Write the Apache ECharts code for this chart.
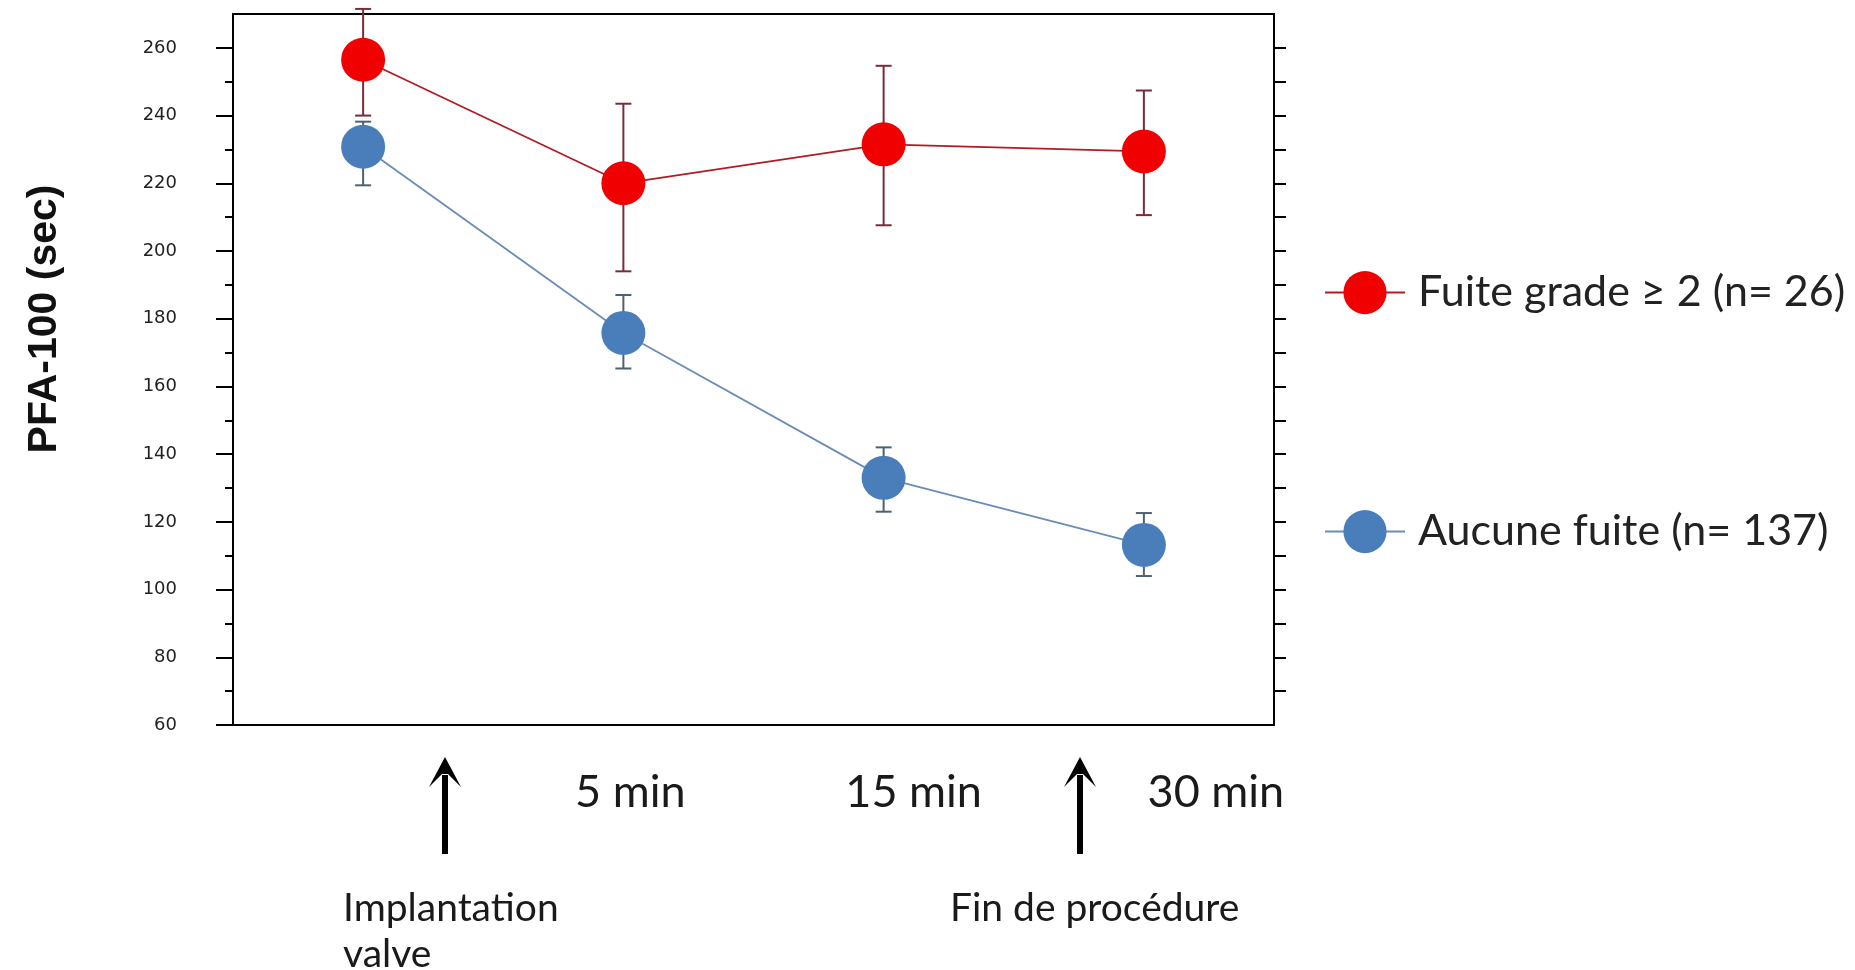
<!DOCTYPE html>
<html>
<head>
<meta charset="utf-8">
<script src="https://cdn.jsdelivr.net/npm/echarts@6/dist/echarts.min.js"></script>
<style>
html,body{margin:0;padding:0;background:#fff;}
#chart{width:1855px;height:970px;}
</style>
</head>
<body>
<div id="chart"></div>
<script>
// ---- data ----
const categories = ['', '5 min', '15 min', '30 min'];
const leakName = 'Fuite grade \u2265 2 (n= 26)';
const leakMean = [256.5, 220, 231.5, 229.4];
const leakUpper = [271.5, 243.5, 254.7, 247.4];
const leakLower = [240, 194, 207.6, 210.6];
const noLeakName = 'Aucune fuite (n= 137)';
const noLeakMean = [230.8, 175.8, 133, 113.2];
const noLeakUpper = [238.2, 187, 142, 122.6];
const noLeakLower = [219.4, 165.3, 123, 104];
const majorTicks = [60, 80, 100, 120, 140, 160, 180, 200, 220, 240, 260];
const minorTicks = [70, 90, 110, 130, 150, 170, 190, 210, 230, 250];
const rightTicks = [70, 80, 90, 100, 110, 120, 130, 140, 150, 160, 170, 180, 190, 200, 210, 220, 230, 240, 250, 260];
const yTitle = 'PFA-100 (sec)';
const note1 = 'Implantation\nvalve';
const note2 = 'Fin de proc\u00e9dure';

// ---- styles (not data) ----
const labelShift = [0, 14, 60, 144];
const RED = '#f00000', RED_LINE = '#b01c24', RED_ERR = '#7a2b38';
const BLUE = '#4a7ebb', BLUE_LINE = '#6a8db6', BLUE_ERR = '#50606e';

const chart = echarts.init(document.getElementById('chart'), null, {renderer: 'canvas'});

function errData(lo, hi) { return categories.map((c, i) => [i, lo[i], hi[i]]); }
function errRender(color) {
  return function (params, api) {
    const x = api.value(0);
    const lo = api.coord([x, api.value(1)]);
    const hi = api.coord([x, api.value(2)]);
    const w = 8;
    const st = {stroke: color, lineWidth: 2};
    return {type: 'group', children: [
      {type: 'line', shape: {x1: lo[0], y1: lo[1], x2: hi[0], y2: hi[1]}, style: st},
      {type: 'line', shape: {x1: lo[0] - w, y1: lo[1], x2: lo[0] + w, y2: lo[1]}, style: st},
      {type: 'line', shape: {x1: hi[0] - w, y1: hi[1], x2: hi[0] + w, y2: hi[1]}, style: st}
    ]};
  };
}

const axisFont = {fontFamily: 'Lato', fontSize: 45, color: '#1a1a1a'};

function arrow(cx, top, bottom) {
  return {type: 'group', children: [
    {type: 'rect', shape: {x: cx - 3, y: top + 18, width: 6, height: bottom - top - 18}, style: {fill: '#000'}},
    {type: 'polygon', shape: {points: [[cx, top], [cx - 16, top + 30], [cx - 3, top + 17], [cx + 3, top + 17], [cx + 16, top + 30]]}, style: {fill: '#000'}}
  ]};
}

const legendText = {fontFamily: 'Lato', fontSize: 43, color: '#222', padding: [0, 0, 0, 8]};

const option = {
  backgroundColor: '#fff',
  animation: false,
  grid: {left: 233, right: 581, top: 14, bottom: 245, containLabel: false},
  legend: [
    {data: [leakName], left: 1319, top: 266, orient: 'vertical', itemWidth: 80, itemHeight: 54,
     textStyle: legendText, selectedMode: false},
    {data: [noLeakName], left: 1319, top: 505, orient: 'vertical', itemWidth: 80, itemHeight: 54,
     textStyle: legendText, selectedMode: false}
  ],
  xAxis: [
    {type: 'category', position: 'bottom',
     data: categories.map((c, i) => ({value: c, textStyle: {padding: [0, 0, 0, labelShift[i]]}})),
     boundaryGap: true,
     axisLine: {lineStyle: {color: '#000', width: 2}},
     axisTick: {alignWithLabel: true, length: 6, lineStyle: {color: '#000', width: 2}},
     axisLabel: Object.assign({margin: 45, interval: 0}, axisFont)},
    {type: 'category', position: 'top', data: categories, boundaryGap: true,
     axisLine: {lineStyle: {color: '#000', width: 2}},
     axisTick: {alignWithLabel: true, length: 8, lineStyle: {color: '#000', width: 2}},
     axisLabel: {show: false}}
  ],
  yAxis: [
    {type: 'value', position: 'left', min: 60, max: 270, interval: 10,
     axisLine: {show: true, lineStyle: {color: '#000', width: 2}},
     axisTick: {show: true, length: 17, customValues: majorTicks, lineStyle: {color: '#000', width: 2}},
     axisLabel: {customValues: majorTicks, margin: 56, fontFamily: 'DejaVu Sans', fontSize: 18, color: '#222', padding: [0, 0, 6, 0]},
     splitLine: {show: false}},
    {type: 'value', position: 'right', min: 60, max: 270, interval: 10,
     axisLine: {show: true, lineStyle: {color: '#000', width: 2}},
     axisTick: {show: true, length: 12, customValues: rightTicks, lineStyle: {color: '#000', width: 2}},
     axisLabel: {show: false}, splitLine: {show: false}},
    {type: 'value', position: 'left', offset: 0, min: 60, max: 270, interval: 10,
     axisLine: {show: false},
     axisTick: {show: true, length: 8, customValues: minorTicks, lineStyle: {color: '#000', width: 2}},
     axisLabel: {show: false}, splitLine: {show: false}}
  ],
  series: [
    {type: 'custom', name: 'errLeak', renderItem: errRender(RED_ERR), data: errData(leakLower, leakUpper), z: 1, silent: true, clip: false},
    {type: 'custom', name: 'errNoLeak', renderItem: errRender(BLUE_ERR), data: errData(noLeakLower, noLeakUpper), z: 1, silent: true, clip: false},
    {type: 'line', name: leakName, data: leakMean, z: 3, symbol: 'circle', symbolSize: 44,
     itemStyle: {color: RED}, lineStyle: {color: RED_LINE, width: 1.8}},
    {type: 'line', name: noLeakName, data: noLeakMean, z: 3, symbol: 'circle', symbolSize: 44,
     itemStyle: {color: BLUE}, lineStyle: {color: BLUE_LINE, width: 1.8}}
  ],
  graphic: [
    {type: 'text', x: 45, y: 319, rotation: Math.PI / 2,
     style: {text: yTitle, fontFamily: 'Liberation Sans', fontWeight: 'bold', fontSize: 41, fill: '#111', align: 'center', verticalAlign: 'middle'}},
    arrow(445, 757, 854),
    arrow(1080, 757, 854),
    {type: 'text', x: 343, y: 885, style: {text: note1, fontFamily: 'Lato', fontSize: 39, lineHeight: 46, fill: '#1a1a1a', align: 'left', verticalAlign: 'top'}},
    {type: 'text', x: 950, y: 885, style: {text: note2, fontFamily: 'Lato', fontSize: 39, lineHeight: 46, fill: '#1a1a1a', align: 'left', verticalAlign: 'top'}}
  ]
};
chart.setOption(option);
</script>
</body>
</html>
